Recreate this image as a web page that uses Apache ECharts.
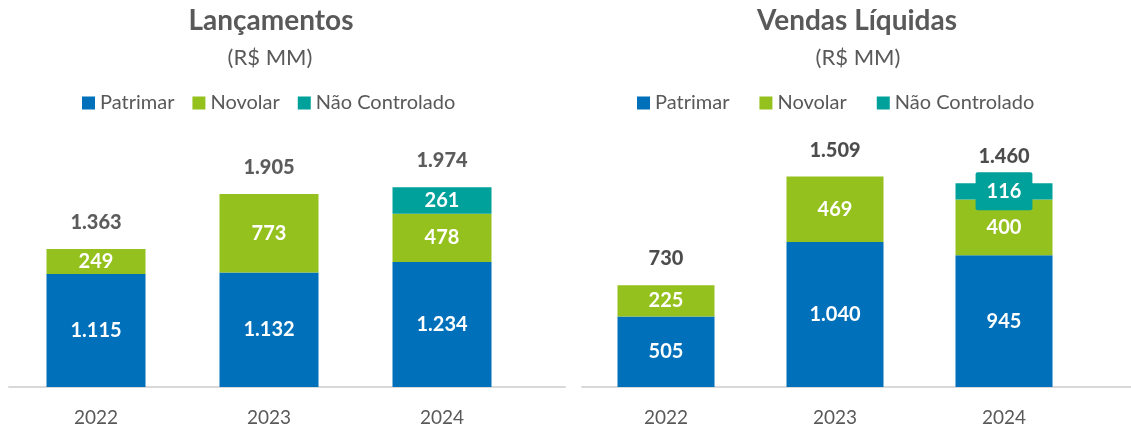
<!DOCTYPE html>
<html>
<head>
<meta charset="utf-8">
<script src="https://cdn.jsdelivr.net/npm/echarts@6/dist/echarts.min.js"></script>
<style>
  html, body { margin: 0; padding: 0; background: #fff; }
  #chart { width: 1131px; height: 431px; }
</style>
</head>
<body>
<div id="chart"></div>
<script>
// dados (R$ MM)
const years = ['2022', '2023', '2024'];
const lancPatrimar = [1115, 1132, 1234];
const lancNovolar = [249, 773, 478];
const lancNaoControlado = [null, null, 261];
const lancTotal = [1363, 1905, 1974];
const vendPatrimar = [505, 1040, 945];
const vendNovolar = [225, 469, 400];
const vendNaoControlado = [null, null, 116];
const vendTotal = [730, 1509, 1460];

const BLUE = '#0070BA', GREEN = '#95C11F', TEAL = '#00A19B';
const FONT = 'Lato';
const fmt = v => String(v).replace(/\B(?=(\d{3})+(?!\d))/g, '.');

const inLabel = {
  show: true, position: 'inside', color: '#fff', fontFamily: FONT,
  fontWeight: 'bold', fontSize: 20, formatter: p => fmt(p.value)
};

function bar(name, data, color, gi, width, extra) {
  return {
    name: name, type: 'bar', stack: 'g' + gi, data: data,
    xAxisIndex: gi, yAxisIndex: gi, barWidth: width,
    itemStyle: { color: color },
    label: Object.assign({}, inLabel, extra || {})
  };
}
function total(data, gi, color) {
  return {
    type: 'scatter', data: data, xAxisIndex: gi, yAxisIndex: gi,
    symbolSize: 1, itemStyle: { color: 'rgba(0,0,0,0)' }, silent: true,
    label: {
      show: true, position: 'top', distance: 16, color: color,
      fontFamily: FONT, fontWeight: 900, fontSize: 20,
      formatter: p => fmt(p.value)
    }
  };
}
function xCat(gi, line) {
  return {
    type: 'category', gridIndex: gi, data: line ? [''] : years,
    axisLine: { show: line, lineStyle: { color: '#d9d9d9', width: 2 } },
    axisTick: { show: false },
    axisLabel: { show: !line, color: '#595959', fontFamily: FONT, fontSize: 19, margin: 21 }
  };
}
function yVal(gi, max) {
  return { type: 'value', gridIndex: gi, min: 0, max: max, show: false, splitLine: { show: false } };
}
const legendText = { color: '#595959', fontFamily: FONT, fontSize: 20 };
const names = ['Patrimar', 'Novolar', 'Não Controlado'];

const option = {
  animation: false,
  title: [
    { text: 'Lançamentos', left: 271, top: 7, textAlign: 'center', padding: 0,
      textStyle: { color: '#595959', fontFamily: FONT, fontWeight: 'bold', fontSize: 28 } },
    { text: '(R$ MM)', left: 270, top: 47, textAlign: 'center', padding: 0,
      textStyle: { color: '#595959', fontFamily: FONT, fontWeight: 'normal', fontSize: 22 } },
    { text: 'Vendas Líquidas', left: 857, top: 7, textAlign: 'center', padding: 0,
      textStyle: { color: '#595959', fontFamily: FONT, fontWeight: 'bold', fontSize: 28 } },
    { text: '(R$ MM)', left: 858, top: 47, textAlign: 'center', padding: 0,
      textStyle: { color: '#595959', fontFamily: FONT, fontWeight: 'normal', fontSize: 22 } }
  ],
  legend: [
    { data: names, left: 82, top: 93, padding: 0, itemWidth: 13, itemHeight: 13, itemGap: 18,
      icon: 'rect', textStyle: legendText },
    { data: names, left: 637, top: 93, padding: 0, itemWidth: 13, itemHeight: 13, itemGap: 30,
      icon: 'rect', textStyle: legendText }
  ],
  grid: [
    { left: 9.5, width: 519, top: 144, height: 243 },
    { left: 581.5, width: 507, top: 136, height: 251 },
    { left: 9, width: 556, top: 144, height: 243 },
    { left: 582, width: 549, top: 136, height: 251 }
  ],
  xAxis: [xCat(0, false), xCat(1, false), xCat(2, true), xCat(3, true)],
  yAxis: [yVal(0, 2400), yVal(1, 1800), yVal(2, 1), yVal(3, 1)],
  series: [
    bar('Patrimar', lancPatrimar, BLUE, 0, 99),
    bar('Novolar', lancNovolar, GREEN, 0, 99),
    bar('Não Controlado', lancNaoControlado, TEAL, 0, 99),
    total(lancTotal, 0, '#333333'),
    bar('Patrimar', vendPatrimar, BLUE, 1, 97),
    bar('Novolar', vendNovolar, GREEN, 1, 97),
    bar('Não Controlado', vendNaoControlado, TEAL, 1, 97,
      { backgroundColor: TEAL, padding: [9, 11], borderRadius: 2 }),
    total(vendTotal, 1, '#1f1f1f')
  ]
};

const chart = echarts.init(document.getElementById('chart'));
chart.setOption(option);
</script>
</body>
</html>
